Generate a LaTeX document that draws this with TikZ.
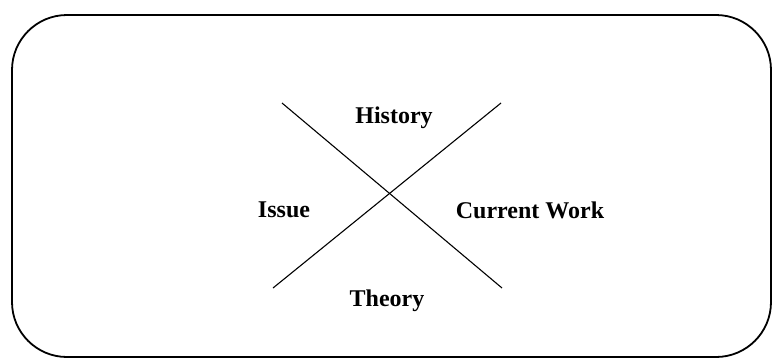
\documentclass[tikz,border=0pt]{standalone}
\usepackage{fontspec}
\setmainfont{Liberation Serif}
\begin{document}
\begin{tikzpicture}[x=1pt,y=-1pt,
  lbl/.style={font=\fontsize{24}{26}\selectfont\bfseries, inner sep=0pt},
  cross/.style={line width=1.1pt}]
\useasboundingbox (0,0) rectangle (773,360);
\draw[line width=1.8pt, rounded corners=55pt] (12,15) rectangle (771,357);
\coordinate (a1) at (282,103);
\coordinate (a2) at (502,288);
\coordinate (b1) at (501,103);
\coordinate (b2) at (273,288);
\draw[cross] (a1) -- (a2);
\draw[cross] (b1) -- (b2);
\node[lbl] (history) at (394,118) {History};
\node[lbl] (issue) at (284,210) {Issue};
\node[lbl] (current) at (530,210) {Current Work};
\node[lbl] (theory) at (387,301) {Theory};
\end{tikzpicture}
\end{document}
